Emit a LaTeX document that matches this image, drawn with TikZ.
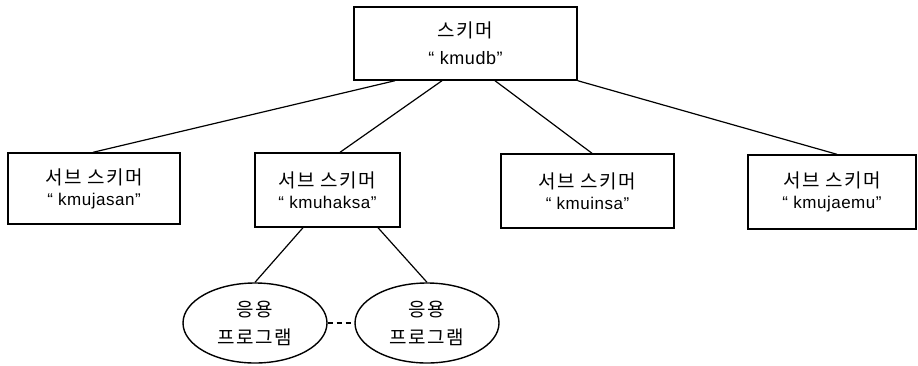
\documentclass[tikz,border=0pt]{standalone}
\usepackage{fontspec}
\setmainfont{Liberation Sans}[LetterSpace=3]
\newfontfamily\kr{Noto Sans CJK KR}[LetterSpace=8]
\usetikzlibrary{calc,shapes.geometric}
\begin{document}
\begin{tikzpicture}[x=1pt,y=-1pt,
  box/.style={draw,line width=1.4pt,inner sep=0pt,align=center,font=\fontsize{17}{21}\selectfont},
  app/.style={draw,ellipse,line width=1.4pt,inner sep=0pt,align=center,minimum width=144pt,minimum height=80pt,font=\fontsize{17}{28}\selectfont},
  link/.style={line width=1.2pt}]
\useasboundingbox (0,0) rectangle (918,365);
\node[box,minimum width=223pt,minimum height=73pt,font=\fontsize{18}{27}\selectfont] (top) at (465.5,43.5) {{\kr\fontsize{19}{27}\selectfont 스키머}\\“ kmudb”};
\node[box,minimum width=172pt,minimum height=71pt] (s1) at (94,188.5) {{\kr\fontsize{19}{21}\selectfont 서브 스키머}\\“ kmujasan”};
\node[box,minimum width=145pt,minimum height=74pt] (s2) at (327.5,190) {{\kr\fontsize{19}{21}\selectfont 서브 스키머}\\“ kmuhaksa”};
\node[box,minimum width=173pt,minimum height=74pt] (s3) at (587.5,191) {{\kr\fontsize{19}{21}\selectfont 서브 스키머}\\“ kmuinsa”};
\node[box,minimum width=168pt,minimum height=74pt] (s4) at (832,192) {{\kr\fontsize{19}{21}\selectfont 서브 스키머}\\“ kmujaemu”};
\node[app] (a1) at (255,323) {\kr\fontsize{19}{28}\selectfont 응용\\\kr\fontsize{19}{28}\selectfont 프로그램};
\node[app] (a2) at (427,323) {\kr\fontsize{19}{28}\selectfont 응용\\\kr\fontsize{19}{28}\selectfont 프로그램};
\draw[link] ([xshift=-70.5pt]top.south) -- ([xshift=-1pt]s1.north);
\draw[link] ([xshift=-23.5pt]top.south) -- ([xshift=12.5pt]s2.north);
\draw[link] ([xshift=29.5pt]top.south) -- ([xshift=4.5pt]s3.north);
\draw[link] (top.south east) -- ([xshift=5pt]s4.north);
\draw[link] ([xshift=-24.5pt]s2.south) -- (a1.north);
\draw[link] ([xshift=50.5pt]s2.south) -- (a2.north);
\draw[link,dash pattern=on 5pt off 4pt] (a1.east) -- (a2.west);
\end{tikzpicture}
\end{document}
